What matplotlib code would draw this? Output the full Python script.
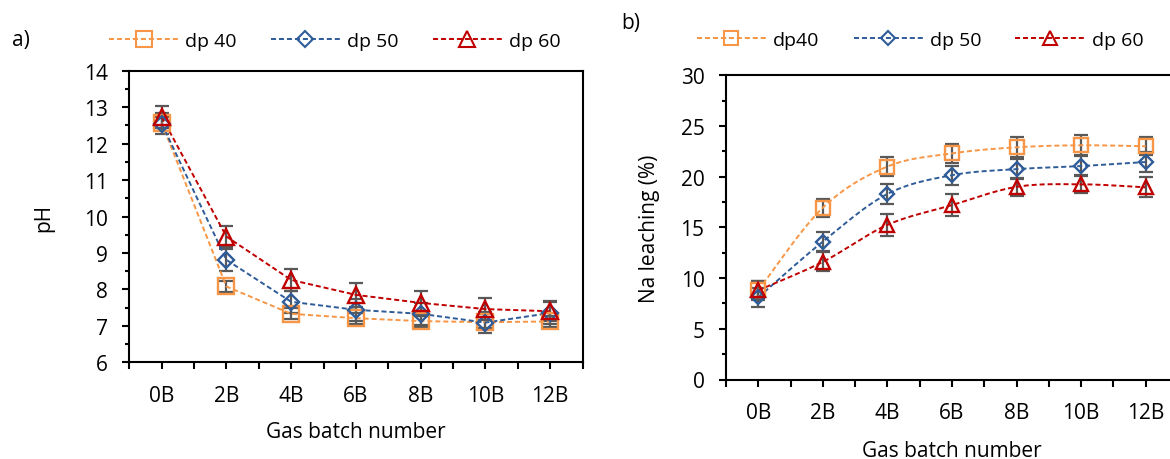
import numpy as np
import matplotlib
matplotlib.use('Agg')
import matplotlib.pyplot as plt
from matplotlib.lines import Line2D
from matplotlib.ticker import MultipleLocator, FixedLocator

# ---------------- data ----------------
batches = ['0B', '2B', '4B', '6B', '8B', '10B', '12B']

ph_dp40 = [12.57, 8.08, 7.33, 7.21, 7.13, 7.10, 7.12]
ph_dp50 = [12.55, 8.81, 7.66, 7.44, 7.33, 7.09, 7.35]
ph_dp60 = [12.73, 9.45, 8.26, 7.85, 7.63, 7.46, 7.40]
ph_err40 = [0.15, 0.15, 0.15, 0.15, 0.15, 0.15, 0.15]
ph_err50 = [0.30, 0.30, 0.30, 0.30, 0.30, 0.28, 0.30]
ph_err60 = [0.30, 0.30, 0.30, 0.32, 0.33, 0.30, 0.27]

na_dp40 = [8.8, 16.95, 21.0, 22.3, 22.9, 23.1, 23.0]
na_dp50 = [8.1, 13.6, 18.3, 20.15, 20.75, 21.05, 21.45]
na_dp60 = [8.8, 11.6, 15.25, 17.2, 19.0, 19.25, 18.95]
na_err40 = [0.9, 0.9, 0.95, 0.9, 1.0, 1.0, 0.9]
na_err50 = [0.95, 0.95, 1.0, 0.95, 0.95, 0.95, 0.95]
na_err60 = [0.95, 0.93, 1.05, 1.05, 0.9, 0.9, 1.0]

legend_a = ['dp 40', 'dp 50', 'dp 60']
legend_b = ['dp40', 'dp 50', 'dp 60']

# ---------------- style ----------------
plt.rcParams['font.family'] = ['Open Sans', 'DejaVu Sans']
FS = 15
FS_LEG = 14
C40 = '#F79646'
C50 = '#2E5C98'
C60 = '#C00000'
CERR = '#595959'
DASH = (0, (2.6, 1.5))

W, H = 1170, 460
fig = plt.figure(figsize=(W / 100, H / 100), dpi=100)


def smooth_path(xs, ys, n=24):
    pts = np.column_stack([xs, ys]).astype(float)
    out = []
    for i in range(len(pts) - 1):
        p0 = pts[max(i - 1, 0)]
        p1 = pts[i]
        p2 = pts[i + 1]
        p3 = pts[min(i + 2, len(pts) - 1)]
        c1 = p1 + (p2 - p0) / 6.0
        c2 = p2 - (p3 - p1) / 6.0
        t = np.linspace(0, 1, n)[:, None]
        seg = (1 - t) ** 3 * p1 + 3 * (1 - t) ** 2 * t * c1 + 3 * (1 - t) * t ** 2 * c2 + t ** 3 * p2
        out.append(seg if i == 0 else seg[1:])
    return np.vstack(out)


def style_axes(ax, ymin, ymax, ymajor, yminor):
    x = np.arange(len(batches))
    ax.set_xlim(-0.5, len(batches) - 0.5)
    ax.set_ylim(ymin, ymax)
    ax.xaxis.set_major_locator(FixedLocator(x))
    ax.xaxis.set_minor_locator(FixedLocator(np.arange(-0.5, len(batches), 1.0)))
    ax.set_xticklabels(batches)
    ax.yaxis.set_major_locator(MultipleLocator(ymajor))
    ax.yaxis.set_minor_locator(MultipleLocator(yminor))
    for s in ax.spines.values():
        s.set_linewidth(1.5)
        s.set_color('black')
    ax.tick_params(axis='x', which='both', direction='out', length=5, width=1.5,
                   pad=11.5, labelsize=FS, colors='black')
    ax.tick_params(axis='y', which='major', direction='out', length=5, width=1.5,
                   pad=10.5, labelsize=FS, colors='black')
    ax.tick_params(axis='y', which='minor', direction='out', length=3.2, width=1.5)


def draw_series(ax, y, err, color, marker, ms, smooth):
    x = np.arange(len(batches))
    ax.errorbar(x, y, yerr=err, fmt='none', ecolor=CERR, elinewidth=1.6,
                capsize=4.8, capthick=1.6, zorder=2)
    if smooth:
        p = smooth_path(x, y)
        ax.plot(p[:, 0], p[:, 1], color=color, lw=1.4, linestyle=DASH, zorder=3)
    else:
        ax.plot(x, y, color=color, lw=1.4, linestyle=DASH, zorder=3)
    ax.plot(x, y, linestyle='none', marker=marker, ms=ms, mfc='none',
            mec=color, mew=1.7, zorder=4)


def add_legend(labels, anchor_x, anchor_y, sizes):
    handles = [
        Line2D([], [], color=C40, lw=1.4, linestyle=DASH, marker='s', ms=sizes[0], mfc='none', mec=C40, mew=1.5),
        Line2D([], [], color=C50, lw=1.4, linestyle=DASH, marker='D', ms=sizes[1], mfc='none', mec=C50, mew=1.5),
        Line2D([], [], color=C60, lw=1.4, linestyle=DASH, marker='^', ms=sizes[2], mfc='none', mec=C60, mew=1.5),
    ]
    fig.legend(handles, labels, loc='center left', bbox_to_anchor=(anchor_x / W, 1 - anchor_y / H),
               bbox_transform=fig.transFigure, ncol=3, frameon=False, fontsize=FS_LEG,
               handlelength=3.55, handletextpad=0.38, columnspacing=1.75, borderpad=0,
               borderaxespad=0)


# ---------------- panel a ----------------
axa = fig.add_axes([129.3 / W, (H - 363.3) / H, (582.5 - 129.3) / W, (363.3 - 71.7) / H])
style_axes(axa, 6, 14, 1, 0.5)
draw_series(axa, ph_dp40, ph_err40, C40, 's', 11, False)
draw_series(axa, ph_dp50, ph_err50, C50, 'D', 7.8, False)
draw_series(axa, ph_dp60, ph_err60, C60, '^', 11, False)
axa.set_ylabel('pH', fontsize=FS)
axa.yaxis.set_label_coords(-0.166, 0.5)
axa.set_xlabel('Gas batch number', fontsize=FS)
axa.xaxis.set_label_coords(0.5, -0.2)
fig.text(12 / W, 1 - 40.5 / H, 'a)', fontsize=FS, va='center', ha='left')
add_legend(legend_a, 109, 41.7, (11, 7.8, 11))

# ---------------- panel b ----------------
axb = fig.add_axes([726 / W, (H - 380.5) / H, (1178 - 726) / W, (380.5 - 76.3) / H])
style_axes(axb, 0, 30, 5, 2.5)
draw_series(axb, na_dp40, na_err40, C40, 's', 9.8, True)
draw_series(axb, na_dp50, na_err50, C50, 'D', 7.0, True)
draw_series(axb, na_dp60, na_err60, C60, '^', 9.8, True)
axb.set_ylabel('Na leaching (%)', fontsize=FS)
axb.yaxis.set_label_coords(-0.146, 0.5)
axb.set_xlabel('Gas batch number', fontsize=FS)
axb.xaxis.set_label_coords(0.5, -0.2)
fig.text(621 / W, 1 - 23.5 / H, 'b)', fontsize=FS, va='center', ha='left')
add_legend(legend_b, 696.7, 40.7, (10, 7.0, 10))

fig.savefig('out.png', dpi=100)
